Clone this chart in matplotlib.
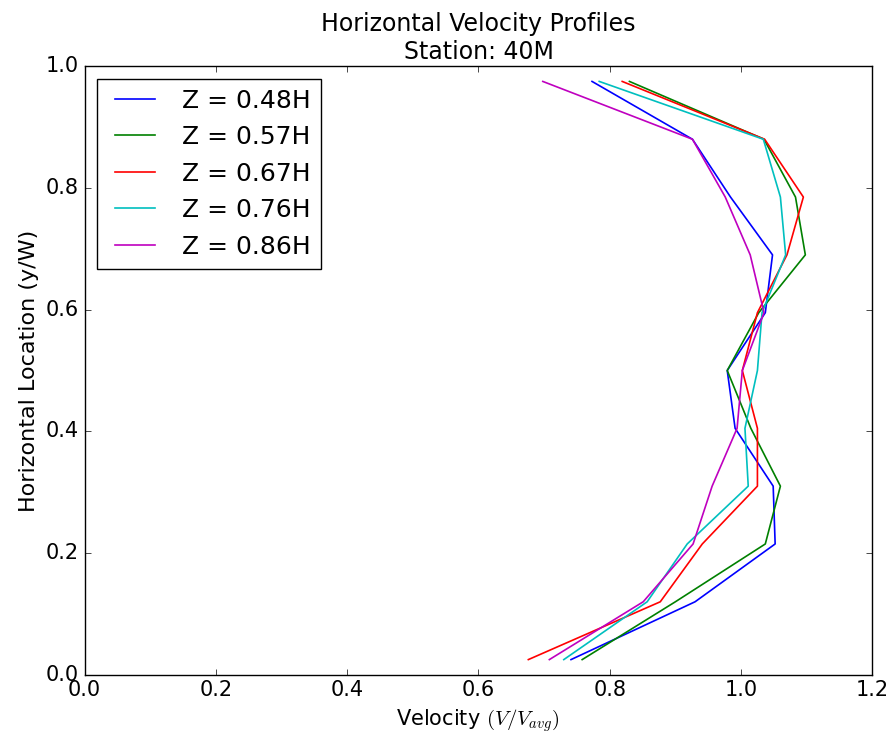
import matplotlib
matplotlib.use("Agg")
import matplotlib.pyplot as plt

plt.style.use("classic")

# y positions (y/W) shared by all profiles
y_loc = [0.025, 0.12, 0.215, 0.31, 0.405, 0.5, 0.595, 0.69, 0.785, 0.88, 0.975]

# velocity V/Vavg per depth
v_048 = [0.741, 0.930, 1.052, 1.049, 0.991, 0.979, 1.037, 1.048, 0.984, 0.926, 0.773]
v_057 = [0.758, 0.900, 1.037, 1.060, 1.015, 0.979, 1.027, 1.098, 1.083, 1.035, 0.830]
v_067 = [0.676, 0.877, 0.941, 1.025, 1.025, 1.002, 1.025, 1.070, 1.095, 1.036, 0.819]
v_076 = [0.730, 0.857, 0.918, 1.011, 1.006, 1.025, 1.032, 1.068, 1.060, 1.034, 0.784]
v_086 = [0.708, 0.851, 0.927, 0.956, 0.994, 1.002, 1.035, 1.014, 0.976, 0.926, 0.698]

labels = ["Z = 0.48H", "Z = 0.57H", "Z = 0.67H", "Z = 0.76H", "Z = 0.86H"]
colors = ["b", "g", "r", "c", "m"]

fig = plt.figure(figsize=(8.91, 7.44), dpi=100, facecolor="white")
ax = fig.add_axes([0.095, 0.093, 0.884, 0.818])

for v, lab, c in zip([v_048, v_057, v_067, v_076, v_086], labels, colors):
    ax.plot(v, y_loc, color=c, label=lab, linewidth=1.2)

ax.set_xlim(0.0, 1.2)
ax.set_ylim(0.0, 1.0)
ax.tick_params(labelsize=15)
ax.set_xlabel(r"Velocity $(V/V_{avg})$", fontsize=15)
ax.set_ylabel("Horizontal Location (y/W)", fontsize=16)
ax.set_title("Horizontal Velocity Profiles\nStation: 40M", fontsize=17)
ax.legend(loc="upper left", fontsize=18, handlelength=2.2, labelspacing=0.5)

fig.savefig("out.png", dpi=100, facecolor="white")
